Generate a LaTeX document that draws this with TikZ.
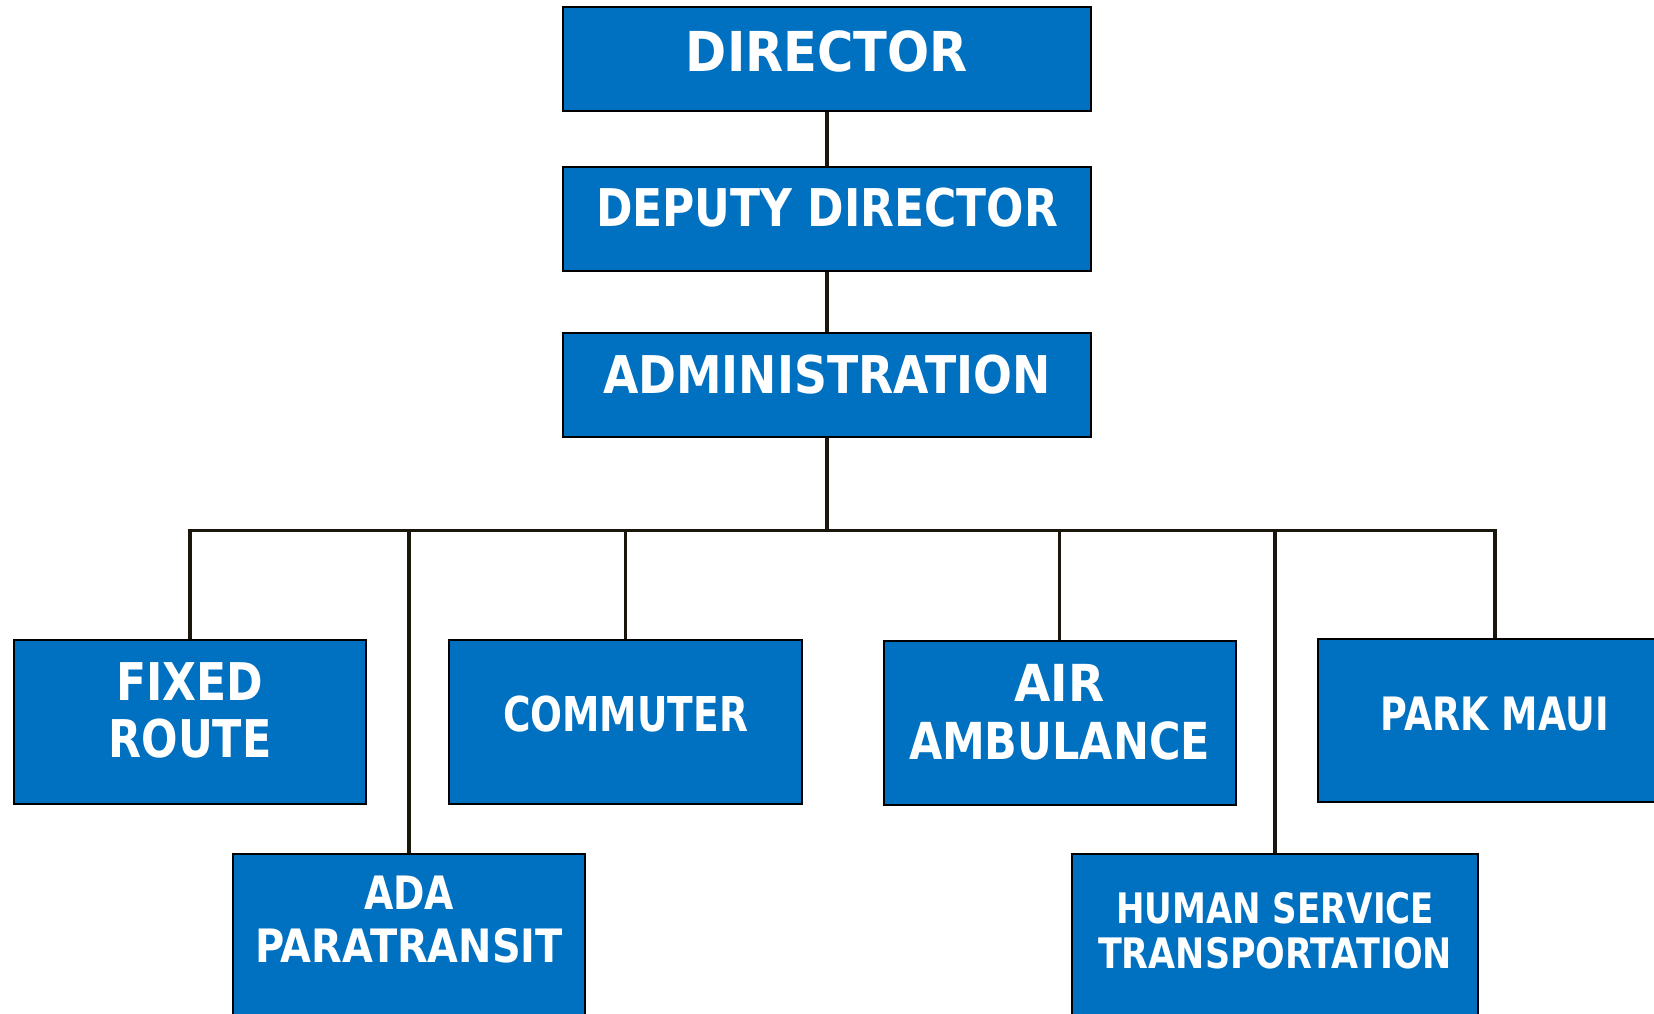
\documentclass[tikz,border=0pt]{standalone}
\usepackage{fontspec}
\usepackage{graphicx}
\setmainfont{DejaVu Sans}
\definecolor{boxblue}{HTML}{0070C0}
\definecolor{linedark}{HTML}{1A160C}
\newcommand{\fw}[2]{\resizebox{#1pt}{\height}{#2}}
\begin{document}
\begin{tikzpicture}[x=1pt,y=-1pt,
  orgbox/.style={draw=black, line width=2pt, fill=boxblue, rectangle, inner sep=0pt},
  lbl/.style={text=white, inner sep=0pt, anchor=base},
  link/.style={draw=linedark, line width=3.8pt, line join=miter}]
\useasboundingbox (0,0) rectangle (1654,1014);
\clip (0,0) rectangle (1654,1014);
% boxes
\node[orgbox, minimum width=528, minimum height=104] (dir) at (827,59) {};
\node[orgbox, minimum width=528, minimum height=104] (dep) at (827,219) {};
\node[orgbox, minimum width=528, minimum height=104] (adm) at (827,385) {};
\node[orgbox, minimum width=352, minimum height=164] (fix) at (190,722) {};
\node[orgbox, minimum width=353, minimum height=164] (com) at (625.5,722) {};
\node[orgbox, minimum width=352, minimum height=164] (air) at (1059.5,723) {};
\node[orgbox, minimum width=353, minimum height=163] (park) at (1494.6,720.5) {};
\node[orgbox, minimum width=352, minimum height=186] (ada) at (409,947) {};
\node[orgbox, minimum width=406, minimum height=186] (hum) at (1275,947) {};
% connectors
\coordinate (bus) at (827,530.5);
\draw[link] (dir.south) -- (dep.north);
\draw[link] (dep.south) -- (adm.north);
\draw[link] (adm.south) -- (bus);
\draw[link] (fix.north) |- (park.north |- bus) -- (park.north);
\draw[link] (ada.north) -- (ada.north |- bus);
\draw[link] (com.north) -- (com.north |- bus);
\draw[link] (air.north) -- (air.north |- bus);
\draw[link] (hum.north) -- (hum.north |- bus);
% labels
\node[lbl, font=\bfseries\fontsize{55}{60}\selectfont] (tdir) at (827,71.7) {\fw{282}{DIRECTOR}};
\node[lbl, font=\bfseries\fontsize{52}{57}\selectfont] (tdep) at (827,226.8) {\fw{462}{DEPUTY DIRECTOR}};
\node[lbl, font=\bfseries\fontsize{52}{57}\selectfont] (tadm) at (827,393.4) {\fw{448}{ADMINISTRATION}};
\node[lbl, font=\bfseries\fontsize{52}{57}\selectfont] (tfix1) at (190,700.4) {\fw{147}{FIXED}};
\node[lbl, font=\bfseries\fontsize{52}{57}\selectfont] (tfix2) at (190,757.3) {\fw{163}{ROUTE}};
\node[lbl, font=\bfseries\fontsize{48}{52}\selectfont] (tcom) at (625.5,731) {\fw{245}{COMMUTER}};
\node[lbl, font=\bfseries\fontsize{51}{56}\selectfont] (tair1) at (1059.5,701.4) {\fw{90}{AIR}};
\node[lbl, font=\bfseries\fontsize{51}{56}\selectfont] (tair2) at (1059.5,759.5) {\fw{301}{AMBULANCE}};
\node[lbl, font=\bfseries\fontsize{46}{50}\selectfont] (tpark) at (1494.6,730) {\fw{228}{PARK MAUI}};
\node[lbl, font=\bfseries\fontsize{46}{50}\selectfont] (tada1) at (409,909.2) {\fw{90}{ADA}};
\node[lbl, font=\bfseries\fontsize{46}{50}\selectfont] (tada2) at (409,962) {\fw{308}{PARATRANSIT}};
\node[lbl, font=\bfseries\fontsize{42}{46}\selectfont] (thum1) at (1275,923) {\fw{318}{HUMAN SERVICE}};
\node[lbl, font=\bfseries\fontsize{42}{46}\selectfont] (thum2) at (1275,968.3) {\fw{354}{TRANSPORTATION}};
\end{tikzpicture}
\end{document}
